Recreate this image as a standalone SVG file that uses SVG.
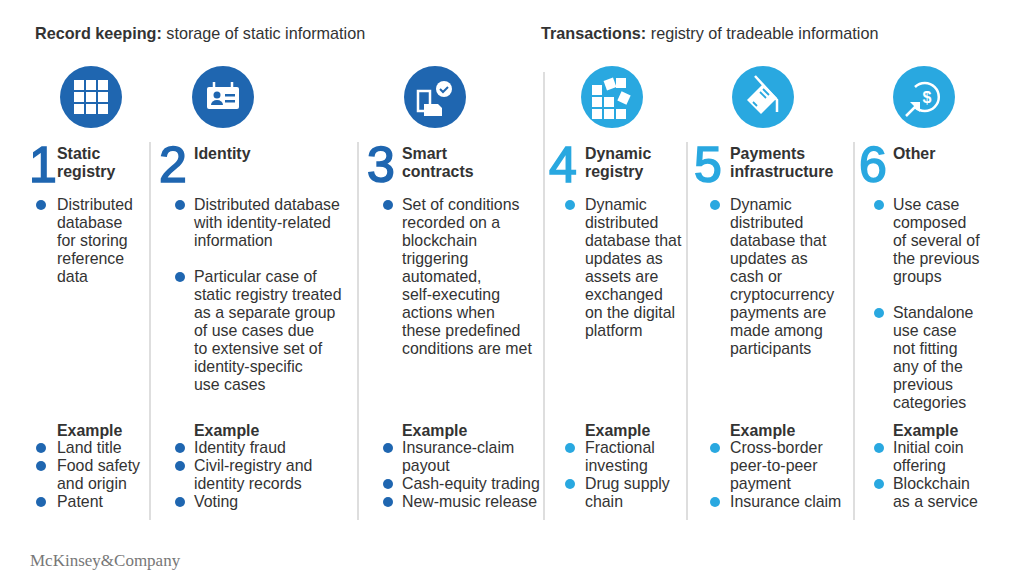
<svg xmlns="http://www.w3.org/2000/svg" width="1024" height="576" viewBox="0 0 1024 576">
<style>
text{font-family:"Liberation Sans",Arial,sans-serif;fill:#333}
.h{font-size:16.2px}
.hb{font-weight:bold}
.num{font-size:50px;stroke-width:1.6}
.d{fill:#1f66b0}
.l{fill:#29a8e0}
text.num.d{stroke:#1f66b0}
text.num.l{stroke:#29a8e0}
.t{font-size:15.9px;fill:#333}
.ti{font-size:15.9px;font-weight:bold;fill:#333}
.ex{font-size:15.9px;font-weight:bold;fill:#333}
.div{stroke:#c8c8c8;stroke-width:1.2}
.w{fill:#fff}
.ws{fill:none;stroke:#fff;stroke-width:2.5}
</style>
<text x="35" y="39" class="h"><tspan class="hb">Record keeping:</tspan> storage of static information</text>
<text x="541" y="39" class="h"><tspan class="hb">Transactions:</tspan> registry of tradeable information</text>
<g id="dividers">
<line class="div" x1="150" y1="142" x2="150" y2="520"/>
<line class="div" x1="358" y1="142" x2="358" y2="520"/>
<line class="div" x1="544" y1="72" x2="544" y2="520"/>
<line class="div" x1="687" y1="142" x2="687" y2="520"/>
<line class="div" x1="854" y1="142" x2="854" y2="520"/>
</g>
<g id="col1">
<circle class="d" cx="91" cy="97" r="31"/>
<g class="w"><rect x="74" y="80" width="10" height="10"/><rect x="86" y="80" width="10" height="10"/><rect x="98" y="80" width="10" height="10"/><rect x="74" y="92" width="10" height="10"/><rect x="86" y="92" width="10" height="10"/><rect x="98" y="92" width="10" height="10"/><rect x="74" y="104" width="10" height="10"/><rect x="86" y="104" width="10" height="10"/><rect x="98" y="104" width="10" height="10"/></g>
<text x="29" y="182" class="num d">1</text>
<text x="57" y="159" class="ti">Static</text><text x="57" y="177" class="ti">registry</text>
<circle class="d" cx="41" cy="205" r="5"/>
<text x="57" y="210" class="t">Distributed</text><text x="57" y="228" class="t">database</text><text x="57" y="246" class="t">for storing</text><text x="57" y="264" class="t">reference</text><text x="57" y="282" class="t">data</text>
<text x="57" y="436" class="ex">Example</text>
<circle class="d" cx="41" cy="448" r="5"/><text x="57" y="453" class="t">Land title</text>
<circle class="d" cx="41" cy="466" r="5"/><text x="57" y="471" class="t">Food safety</text><text x="57" y="489" class="t">and origin</text>
<circle class="d" cx="41" cy="502" r="5"/><text x="57" y="507" class="t">Patent</text>
</g>
<g id="col2">
<circle class="d" cx="223" cy="97" r="31"/>
<rect x="207" y="87" width="32" height="22" rx="2" class="w"/>
<path d="M214 87v-5M232 87v-5" class="ws"/>
<circle cx="217" cy="95" r="3.5" class="d"/><path d="M211 105a6 5 0 0 1 12 0z" class="d"/>
<rect x="225" y="94" width="10" height="2.5" class="d"/><rect x="225" y="100" width="10" height="2.5" class="d"/>
<text x="159" y="182" class="num d">2</text>
<text x="194" y="159" class="ti">Identity</text>
<circle class="d" cx="180" cy="205" r="5"/>
<text x="194" y="210" class="t">Distributed database</text><text x="194" y="228" class="t">with identity-related</text><text x="194" y="246" class="t">information</text>
<circle class="d" cx="180" cy="277" r="5"/>
<text x="194" y="282" class="t">Particular case of</text><text x="194" y="300" class="t">static registry treated</text><text x="194" y="318" class="t">as a separate group</text><text x="194" y="336" class="t">of use cases due</text><text x="194" y="354" class="t">to extensive set of</text><text x="194" y="372" class="t">identity-specific</text><text x="194" y="390" class="t">use cases</text>
<text x="194" y="436" class="ex">Example</text>
<circle class="d" cx="180" cy="448" r="5"/><text x="194" y="453" class="t">Identity fraud</text>
<circle class="d" cx="180" cy="466" r="5"/><text x="194" y="471" class="t">Civil-registry and</text><text x="194" y="489" class="t">identity records</text>
<circle class="d" cx="180" cy="502" r="5"/><text x="194" y="507" class="t">Voting</text>
</g>
<g id="col3">
<circle class="d" cx="435" cy="97" r="31"/>
<path d="M418 91h12v20h-12z" class="ws"/>
<path d="M424 104h14l4 4v8h-18z" class="w"/>
<circle cx="444" cy="89" r="8" class="w"/>
<path d="M440 89l3 3 5-5" fill="none" stroke="#1f66b0" stroke-width="2"/>
<text x="367" y="182" class="num d">3</text>
<text x="402" y="159" class="ti">Smart</text><text x="402" y="177" class="ti">contracts</text>
<circle class="d" cx="388" cy="205" r="5"/>
<text x="402" y="210" class="t">Set of conditions</text><text x="402" y="228" class="t">recorded on a</text><text x="402" y="246" class="t">blockchain</text><text x="402" y="264" class="t">triggering</text><text x="402" y="282" class="t">automated,</text><text x="402" y="300" class="t">self-executing</text><text x="402" y="318" class="t">actions when</text><text x="402" y="336" class="t">these predefined</text><text x="402" y="354" class="t">conditions are met</text>
<text x="402" y="436" class="ex">Example</text>
<circle class="d" cx="388" cy="448" r="5"/><text x="402" y="453" class="t">Insurance-claim</text><text x="402" y="471" class="t">payout</text>
<circle class="d" cx="388" cy="484" r="5"/><text x="402" y="489" class="t">Cash-equity trading</text>
<circle class="d" cx="388" cy="502" r="5"/><text x="402" y="507" class="t">New-music release</text>
</g>
<g id="col4">
<circle class="l" cx="612" cy="97" r="31"/>
<g class="w"><rect x="592" y="85" width="10" height="10"/><rect x="592" y="97" width="10" height="10"/><rect x="604" y="97" width="10" height="10"/><rect x="592" y="109" width="10" height="10"/><rect x="604" y="109" width="10" height="10"/><rect x="616" y="109" width="10" height="10"/><rect x="616" y="78" width="10" height="10"/><rect x="605" y="79" width="10" height="10" transform="rotate(-20 610 84)"/><rect x="619" y="93" width="10" height="10" transform="rotate(25 624 98)"/></g>
<text x="549" y="182" class="num l">4</text>
<text x="585" y="159" class="ti">Dynamic</text><text x="585" y="177" class="ti">registry</text>
<circle class="l" cx="570" cy="205" r="5"/>
<text x="585" y="210" class="t">Dynamic</text><text x="585" y="228" class="t">distributed</text><text x="585" y="246" class="t">database that</text><text x="585" y="264" class="t">updates as</text><text x="585" y="282" class="t">assets are</text><text x="585" y="300" class="t">exchanged</text><text x="585" y="318" class="t">on the digital</text><text x="585" y="336" class="t">platform</text>
<text x="585" y="436" class="ex">Example</text>
<circle class="l" cx="570" cy="448" r="5"/><text x="585" y="453" class="t">Fractional</text><text x="585" y="471" class="t">investing</text>
<circle class="l" cx="570" cy="484" r="5"/><text x="585" y="489" class="t">Drug supply</text><text x="585" y="507" class="t">chain</text>
</g>
<g id="col5">
<circle class="l" cx="763" cy="97" r="31"/>
<path d="M755 76l22 24v12" class="ws"/>
<path d="M747 100l16-16 14 14-16 16z" class="w"/>
<path d="M753 102l4 4M760 92l6 6M763 89l6 6" stroke="#29a8e0" stroke-width="1.8"/>
<text x="694" y="182" class="num l">5</text>
<text x="730" y="159" class="ti">Payments</text><text x="730" y="177" class="ti">infrastructure</text>
<circle class="l" cx="715" cy="205" r="5"/>
<text x="730" y="210" class="t">Dynamic</text><text x="730" y="228" class="t">distributed</text><text x="730" y="246" class="t">database that</text><text x="730" y="264" class="t">updates as</text><text x="730" y="282" class="t">cash or</text><text x="730" y="300" class="t">cryptocurrency</text><text x="730" y="318" class="t">payments are</text><text x="730" y="336" class="t">made among</text><text x="730" y="354" class="t">participants</text>
<text x="730" y="436" class="ex">Example</text>
<circle class="l" cx="715" cy="448" r="5"/><text x="730" y="453" class="t">Cross-border</text><text x="730" y="471" class="t">peer-to-peer</text><text x="730" y="489" class="t">payment</text>
<circle class="l" cx="715" cy="502" r="5"/><text x="730" y="507" class="t">Insurance claim</text>
</g>
<g id="col6">
<circle class="l" cx="924" cy="97" r="31"/>
<path d="M915 87a14 14 0 1 1 0 20" class="ws" stroke-width="3.5"/>
<text x="927" y="103" style="font-size:16px;font-weight:bold;fill:#fff" text-anchor="middle">$</text>
<path d="M906 116l10-10" class="ws" stroke-width="3.5"/><path d="M910 102h10v10z" class="w"/>
<text x="859" y="182" class="num l">6</text>
<text x="893" y="159" class="ti">Other</text>
<circle class="l" cx="879" cy="205" r="5"/>
<text x="893" y="210" class="t">Use case</text><text x="893" y="228" class="t">composed</text><text x="893" y="246" class="t">of several of</text><text x="893" y="264" class="t">the previous</text><text x="893" y="282" class="t">groups</text>
<circle class="l" cx="879" cy="313" r="5"/>
<text x="893" y="318" class="t">Standalone</text><text x="893" y="336" class="t">use case</text><text x="893" y="354" class="t">not fitting</text><text x="893" y="372" class="t">any of the</text><text x="893" y="390" class="t">previous</text><text x="893" y="408" class="t">categories</text>
<text x="893" y="436" class="ex">Example</text>
<circle class="l" cx="879" cy="448" r="5"/><text x="893" y="453" class="t">Initial coin</text><text x="893" y="471" class="t">offering</text>
<circle class="l" cx="879" cy="484" r="5"/><text x="893" y="489" class="t">Blockchain</text><text x="893" y="507" class="t">as a service</text>
</g>
<text x="30" y="566" style="font-family:'Liberation Serif',serif;font-size:17px;fill:#777">McKinsey&amp;Company</text>
</svg>
